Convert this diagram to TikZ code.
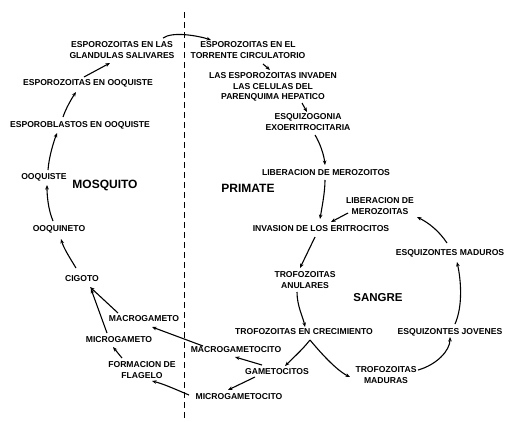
\documentclass[tikz,border=0pt]{standalone}
\usepackage{fontspec}
\setmainfont{Liberation Sans}
\usetikzlibrary{arrows.meta}
\begin{document}
\begin{tikzpicture}[x=1pt,y=-1pt,
  lbl/.style={font=\bfseries\fontsize{8.6}{10.5}\selectfont, inner sep=1pt, align=center},
  big/.style={font=\bfseries\fontsize{12}{14}\selectfont, inner sep=1pt},
  arr/.style={-{Stealth[length=4.5pt,width=3.6pt]}, line width=1.1pt},
  hostline/.style={line width=0.9pt, dash pattern=on 6pt off 4pt}]
\path[use as bounding box, fill=white] (0,0) rectangle (510,421);

% host divider
\draw[hostline] (184,12) -- (184,421);

% nodes
\node[lbl] (gland) at (122,50) {ESPOROZOITAS EN LAS\\GLANDULAS SALIVARES};
\node[lbl] (torr)  at (248,50) {ESPOROZOITAS EN EL\\TORRENTE CIRCULATORIO};
\node[lbl] (eooq)  at (88,83)  {ESPOROZOITAS EN OOQUISTE};
\node[lbl] (eblast) at (80,125) {ESPOROBLASTOS EN OOQUISTE};
\node[lbl] (ooq)   at (44,177) {OOQUISTE};
\node[big] (mosq)  at (105,185) {MOSQUITO};
\node[lbl] (ooqn)  at (59,229) {OOQUINETO};
\node[lbl] (cig)   at (82,279) {CIGOTO};
\node[lbl] (macg)  at (144,319) {MACROGAMETO};
\node[lbl] (micg)  at (119,340) {MICROGAMETO};
\node[lbl] (flag)  at (142,370) {FORMACION DE\\FLAGELO};
\node[lbl] (macgc) at (236,350) {MACROGAMETOCITO};
\node[lbl] (gamc)  at (277,372) {GAMETOCITOS};
\node[lbl] (micgc) at (239,397) {MICROGAMETOCITO};
\node[lbl] (crec)  at (304,332) {TROFOZOITAS EN CRECIMIENTO};
\node[lbl] (madu)  at (386,375) {TROFOZOITAS\\MADURAS};
\node[lbl] (ejov)  at (450,332) {ESQUIZONTES JOVENES};
\node[lbl] (emad)  at (450,253) {ESQUIZONTES MADUROS};
\node[lbl] (libm)  at (380,206) {LIBERACION DE\\MEROZOITAS};
\node[lbl] (inv)   at (321,229) {INVASION DE LOS ERITROCITOS};
\node[lbl] (libo)  at (326,173) {LIBERACION DE MEROZOITOS};
\node[big] (prim)  at (248,188) {PRIMATE};
\node[lbl] (anul)  at (305,280) {TROFOZOITAS\\ANULARES};
\node[big,font=\bfseries\fontsize{11.5}{14}\selectfont] (sang) at (378,298) {SANGRE};
\node[lbl] (esq)   at (308,122) {ESQUIZOGONIA\\EXOERITROCITARIA};
\node[lbl] (parq)  at (273,87)  {LAS ESPOROZOITAS INVADEN\\LAS CELULAS DEL\\PARENQUIMA HEPATICO};

% connectors
\draw[arr] ([shift={(41,-12)}]gland.center) .. controls +(10,-7) and +(-12,-4) .. ([shift={(-37,-10)}]torr.center);
\draw[arr] ([shift={(-4,-6)}]eooq.center) -- ([shift={(-12,13)}]gland.center);
\draw[arr] ([shift={(-17,-8)}]eblast.center) .. controls +(3,-9) and +(-4,6) .. ([shift={(-12,9)}]eooq.center);
\draw[arr] ([shift={(4,-7)}]ooq.center) .. controls +(1,-14) and +(-3,8) .. ([shift={(-23,8)}]eblast.center);
\draw[arr] ([shift={(-6,-8)}]ooqn.center) .. controls +(-5,-12) and +(0,10) .. ([shift={(3,8)}]ooq.center);
\draw[arr] ([shift={(-6,-11)}]cig.center) .. controls +(-6,-10) and +(3,10) .. ([shift={(2,10)}]ooqn.center);
\draw[arr] ([shift={(-26,-6)}]macg.center) -- ([shift={(8,8)}]cig.center);
\draw[arr] ([shift={(-12,-7)}]micg.center) -- ([shift={(9,10)}]cig.center);
\draw[arr] ([shift={(-20,-12)}]flag.center) -- ([shift={(-6,7)}]micg.center);
\draw[arr] ([shift={(-50,-2)}]micgc.center) .. controls +(-12,-5) and +(12,3) .. ([shift={(10,11)}]flag.center);
\draw[arr] ([shift={(-33,-4)}]macgc.center) -- ([shift={(8,8)}]macg.center);
\draw[arr] ([shift={(-15,-7)}]gamc.center) -- ([shift={(-1,7)}]macgc.center);
\draw[arr] ([shift={(-22,5)}]gamc.center) -- ([shift={(-11,-7)}]micgc.center);
\draw[arr] ([shift={(6,8)}]crec.center) .. controls +(-8,10) and +(10,-10) .. ([shift={(8,-6)}]gamc.center);
\draw[arr] ([shift={(6,8)}]crec.center) .. controls +(10,12) and +(-14,-7) .. ([shift={(-36,2)}]madu.center);
\draw[arr] ([shift={(32,-5)}]madu.center) .. controls +(18,-5) and +(0,14) .. ([shift={(0,5)}]ejov.center);
\draw[arr] ([shift={(5,-8)}]ejov.center) .. controls +(8,-18) and +(4,18) .. ([shift={(7,9)}]emad.center);
\draw[arr] ([shift={(-3,-10)}]emad.center) .. controls +(-8,-12) and +(12,6) .. ([shift={(37,11)}]libm.center);
\draw[arr] ([shift={(-32,7)}]libm.center) -- ([shift={(10,-7)}]inv.center);
\draw[arr] ([shift={(-1,7)}]libo.center) .. controls +(0,12) and +(2,-12) .. ([shift={(-1,-10)}]inv.center);
\draw[arr] ([shift={(7,13)}]esq.center) .. controls +(5,8) and +(-1,-10) .. ([shift={(-1,-8)}]libo.center);
\draw[arr] ([shift={(29,16)}]parq.center) -- ([shift={(-1,-10)}]esq.center);
\draw[arr] ([shift={(15,14)}]torr.center) -- ([shift={(-3,-17)}]parq.center);
\draw[arr] ([shift={(-6,8)}]inv.center) -- ([shift={(-5,-12)}]anul.center);
\draw[arr] ([shift={(-8,12)}]anul.center) .. controls +(0,14) and +(-2,-10) .. ([shift={(1,-5)}]crec.center);
\end{tikzpicture}
\end{document}
